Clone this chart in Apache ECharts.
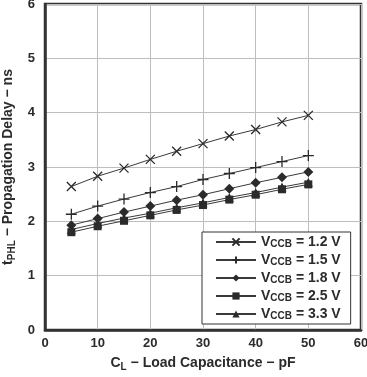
<!DOCTYPE html>
<html><head><meta charset="utf-8">
<script src="https://cdn.jsdelivr.net/npm/echarts@6/dist/echarts.min.js"></script>
<style>html,body{margin:0;padding:0;background:#fff}#c{width:367px;height:377px}</style>
</head><body><div id="c"></div>
<script>
const capacitance = [5, 10, 15, 20, 25, 30, 35, 40, 45, 50];
const v12 = [2.64, 2.83, 2.98, 3.14, 3.29, 3.43, 3.57, 3.69, 3.83, 3.95];
const v15 = [2.13, 2.28, 2.41, 2.53, 2.64, 2.77, 2.88, 2.99, 3.10, 3.21];
const v18 = [1.93, 2.05, 2.17, 2.28, 2.39, 2.49, 2.60, 2.71, 2.81, 2.91];
const v25 = [1.80, 1.91, 2.01, 2.11, 2.21, 2.30, 2.40, 2.49, 2.59, 2.68];
const v33 = [1.85, 1.96, 2.06, 2.15, 2.25, 2.34, 2.44, 2.53, 2.63, 2.72];
const seriesNames = ['1.2 V', '1.5 V', '1.8 V', '2.5 V', '3.3 V'];
const xTicks = [0, 10, 20, 30, 40, 50, 60];
const yTicks = [0, 1, 2, 3, 4, 5, 6];

const FONT = '"Liberation Sans", Arial, sans-serif';
const INK = '#2b2b2b';
const symX = 'path://M0,0L10,10M0,10L10,0';
const symPlus = 'path://M5,0L5,10M0,5L10,5';
const symbols = [symX, symPlus, 'diamond', 'rect', 'triangle'];
const sizes = [9, 11, 10, 8, 9];
const datasets = [v12, v15, v18, v25, v33];

const series = datasets.map((d, i) => ({
  name: seriesNames[i],
  type: 'line',
  data: d.map((v, j) => [capacitance[j], v]),
  symbol: symbols[i],
  symbolSize: sizes[i],
  showAllSymbol: true,
  z: i === 3 ? 4 : 3,
  lineStyle: { color: '#3a3a3a', width: 1 },
  itemStyle: { color: INK, borderColor: INK, borderWidth: i < 2 ? 1.3 : 0 },
  emphasis: { disabled: true },
  animation: false
}));

const chart = echarts.init(document.getElementById('c'), null, { renderer: 'canvas' });
chart.setOption({
  animation: false,
  backgroundColor: '#fff',
  textStyle: { fontFamily: FONT },
  grid: { left: 45, right: 6, top: 4, bottom: 47, show: true, borderColor: '#333', borderWidth: 2.5,
    containLabel: false, outerBoundsMode: 'none' },
  xAxis: {
    type: 'value', min: 0, max: 60, interval: 10,
    axisLine: { show: true, lineStyle: { color: '#333', width: 2.5 } },
    axisTick: { show: false },
    splitLine: { show: true, lineStyle: { color: '#bdbdbd', width: 1 } },
    axisLabel: { color: INK, fontSize: 13, fontWeight: 'bold', fontFamily: FONT, margin: 7,
      formatter: v => xTicks.includes(v) ? String(v) : '' },
    name: '{a|C}{s|L}{a| − Load Capacitance − pF}',
    nameLocation: 'middle', nameGap: 24,
    nameTextStyle: { rich: {
      a: { fontSize: 14, fontWeight: 'bold', color: INK, fontFamily: FONT, lineHeight: 18, verticalAlign: 'middle' },
      s: { fontSize: 10, fontWeight: 'bold', color: INK, fontFamily: FONT, lineHeight: 18, verticalAlign: 'bottom' }
    } }
  },
  yAxis: {
    type: 'value', min: 0, max: 6, interval: 1,
    axisLine: { show: true, lineStyle: { color: '#333', width: 2.5 } },
    axisTick: { show: false },
    splitLine: { show: true, lineStyle: { color: '#bdbdbd', width: 1 } },
    axisLabel: { color: INK, fontSize: 13, fontWeight: 'bold', fontFamily: FONT, margin: 10,
      formatter: v => yTicks.includes(v) ? String(v) : '' },
    name: '{a|t}{s|PHL}{a| − Propagation Delay − ns}',
    nameLocation: 'middle', nameGap: 25, nameRotate: 90,
    nameTextStyle: { rich: {
      a: { fontSize: 14, fontWeight: 'bold', color: INK, fontFamily: FONT, lineHeight: 18, verticalAlign: 'middle' },
      s: { fontSize: 10, fontWeight: 'bold', color: INK, fontFamily: FONT, lineHeight: 18, verticalAlign: 'bottom' }
    } }
  },
  legend: {
    orient: 'vertical', left: 202, top: 232,
    data: seriesNames,
    backgroundColor: '#fff', borderColor: '#333', borderWidth: 1,
    padding: [3, 10, 3, 13],
    itemWidth: 40, itemHeight: 9, itemGap: 4,
    selectedMode: false,
    formatter: n => '{a|V}{s|CCB}{a| = ' + n + '}',
    textStyle: { rich: {
      a: { fontSize: 14, fontWeight: 'bold', color: INK, fontFamily: FONT, lineHeight: 14, verticalAlign: 'middle' },
      s: { fontSize: 10, fontWeight: 'bold', color: INK, fontFamily: FONT, lineHeight: 14, verticalAlign: 'bottom' }
    } }
  },
  series: series
});
</script></body></html>
